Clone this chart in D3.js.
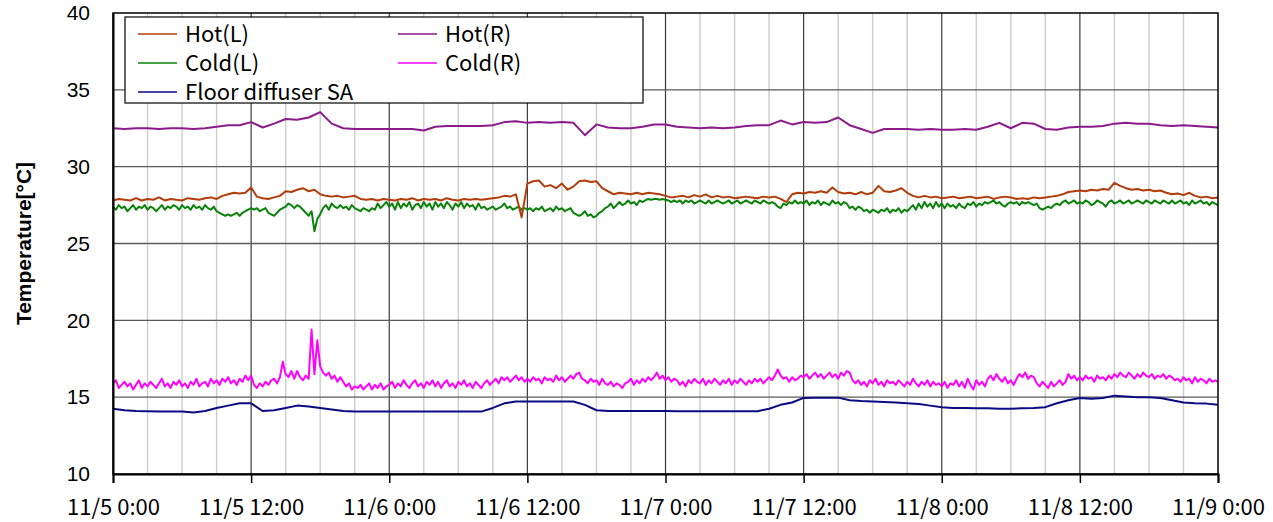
<!DOCTYPE html>
<html>
<head>
<meta charset="utf-8">
<script src="https://cdn.jsdelivr.net/npm/d3@7"></script>
<style>
  html, body { margin: 0; padding: 0; background: #fff; }
  svg { display: block; }
</style>
</head>
<body>
<svg id="chart" width="1273" height="522"></svg>
<script>
// Time axis: hours since 11/5 0:00, four days of logging
const xTickHours = [0, 12, 24, 36, 48, 60, 72, 84, 96];
const xTickLabels = ["11/5 0:00", "11/5 12:00", "11/6 0:00", "11/6 12:00", "11/7 0:00",
                     "11/7 12:00", "11/8 0:00", "11/8 12:00", "11/9 0:00"];
const yTicks = [10, 15, 20, 25, 30, 35, 40];

const seriesNames = ["Hot(L)", "Hot(R)", "Cold(L)", "Cold(R)", "Floor diffuser SA"];
const seriesColors = ["#b23c0a", "#8b1a8b", "#0a820a", "#ff00ff", "#0a0a82"];

// Half-hourly readings [°C]
const hotL = [
  27.8, 27.9, 27.85, 27.8, 27.95, 27.8, 27.9, 27.85, 28.0, 27.8, 27.9, 27.85, 27.8, 27.95, 27.9, 27.85,
  27.95, 28.0, 27.9, 28.1, 28.2, 28.3, 28.25, 28.3, 28.65, 28.05, 27.95, 27.9, 28.0, 28.1, 28.4, 28.35,
  28.5, 28.6, 28.4, 28.5, 28.2, 28.1, 28.05, 28.1, 28.0, 28.05, 28.1, 27.9, 27.85, 27.9, 27.8, 27.9,
  27.85, 27.8, 27.9, 27.85, 27.95, 27.8, 27.9, 27.85, 27.9, 27.8, 27.95, 27.85, 27.8, 27.9, 27.85, 27.9,
  27.85, 27.9, 27.95, 28.0, 28.1, 28.05, 28.2, 26.7, 28.9, 29.05, 29.1, 28.7, 28.8, 28.6, 28.9, 28.5,
  28.7, 29.05, 29.1, 29.0, 29.05, 28.6, 28.4, 28.2, 28.3, 28.25, 28.2, 28.3, 28.2, 28.3, 28.25, 28.2,
  28.1, 28.0, 28.05, 28.1, 28.0, 28.15, 28.05, 28.2, 28.0, 28.1, 28.0, 28.05, 27.95, 28.0, 28.05, 28.0,
  27.95, 28.05, 28.0, 28.05, 27.9, 27.7, 28.2, 28.3, 28.25, 28.35, 28.3, 28.4, 28.3, 28.65, 28.35, 28.25,
  28.3, 28.2, 28.35, 28.2, 28.3, 28.75, 28.4, 28.35, 28.45, 28.6, 28.3, 28.1, 28.0, 28.1, 28.0, 28.05,
  27.95, 28.0, 28.05, 27.95, 28.0, 28.05, 27.95, 28.0, 28.05, 27.9, 28.0, 28.05, 28.0, 27.9, 27.95, 27.9,
  28.0, 27.95, 28.0, 28.05, 28.1, 28.2, 28.35, 28.4, 28.45, 28.4, 28.5, 28.45, 28.55, 28.5, 28.95, 28.75,
  28.6, 28.5, 28.55, 28.45, 28.5, 28.4, 28.45, 28.3, 28.2, 28.25, 28.15, 28.3, 28.1, 28.0, 28.05, 27.95,
  28.0
];

// Quarter-hourly readings [°C]
const coldL = [
  27.4, 27.2, 27.5, 27.3, 27.4, 27.1, 27.3, 27.5, 27.2, 27.4, 27.3, 27.5, 27.2, 27.4, 27.3, 27.1,
  27.3, 27.5, 27.2, 27.4, 27.3, 27.5, 27.4, 27.2, 27.5, 27.3, 27.4, 27.2, 27.5, 27.3, 27.4, 27.2,
  27.5, 27.3, 27.2, 27.4, 27.1, 27.0, 26.9, 26.8, 26.9, 26.8, 26.9, 27.0, 26.8, 27.0, 27.1, 27.2,
  27.3, 27.2, 27.3, 27.1, 27.2, 27.3, 27.0, 26.9, 26.8, 27.0, 27.2, 27.3, 27.4, 27.6, 27.5, 27.3,
  27.5, 27.4, 27.2, 27.0, 26.8, 27.1, 25.8, 26.6, 26.9, 27.3, 27.5, 27.2, 27.6, 27.4, 27.3, 27.5,
  27.3, 27.4, 27.2, 27.5, 27.3, 27.2, 27.1, 27.3, 27.2, 27.1, 27.3, 27.2, 27.6, 27.3, 27.5, 27.7,
  27.4, 27.6, 27.2, 27.7, 27.3, 27.6, 27.4, 27.7, 27.2, 27.5, 27.6, 27.3, 27.7, 27.4, 27.6, 27.2,
  27.7, 27.4, 27.6, 27.3, 27.7, 27.5, 27.2, 27.6, 27.4, 27.7, 27.3, 27.6, 27.4, 27.5, 27.2, 27.6,
  27.3, 27.4, 27.2, 27.3, 27.4, 27.2, 27.3, 27.4, 27.6, 27.3, 27.4, 27.2, 27.3, 27.4, 27.2, 27.3,
  27.2, 27.3, 27.1, 27.3, 27.2, 27.4, 27.1, 27.2, 27.3, 27.1, 27.4, 27.2, 27.3, 27.1, 27.2, 27.3,
  27.0, 26.9, 26.8, 26.9, 27.1, 26.8, 26.9, 26.7, 26.8, 27.0, 27.1, 27.3, 27.4, 27.6, 27.3, 27.5,
  27.7, 27.5, 27.6, 27.8, 27.6, 27.7, 27.5, 27.8, 27.7, 27.8, 27.9, 27.85, 27.9, 27.9, 27.85, 27.9,
  27.85, 27.8, 27.7, 27.8, 27.7, 27.8, 27.6, 27.8, 27.7, 27.8, 27.6, 27.7, 27.8, 27.7, 27.6, 27.8,
  27.6, 27.7, 27.8, 27.7, 27.6, 27.7, 27.8, 27.6, 27.7, 27.8, 27.6, 27.7, 27.8, 27.7, 27.6, 27.8,
  27.7, 27.6, 27.8, 27.7, 27.6, 27.7, 27.6, 27.4, 27.3, 27.6, 27.5, 27.7, 27.6, 27.8, 27.6, 27.7,
  27.6, 27.8, 27.5, 27.7, 27.6, 27.8, 27.5, 27.7, 27.6, 27.5, 27.8, 27.6, 27.7, 27.5, 27.7, 27.6,
  27.3, 27.4, 27.2, 27.4, 27.3, 27.1, 27.2, 27.0, 27.2, 27.1, 27.0, 27.2, 27.1, 27.3, 27.0, 27.2,
  27.1, 27.3, 27.0, 27.2, 27.1, 27.3, 27.5, 27.2, 27.6, 27.3, 27.7, 27.4, 27.6, 27.3, 27.7, 27.4,
  27.6, 27.3, 27.6, 27.4, 27.5, 27.3, 27.6, 27.4, 27.3, 27.6, 27.5, 27.7, 27.4, 27.6, 27.5, 27.7,
  27.6, 27.7, 27.8, 27.6, 27.7, 27.5, 27.4, 27.6, 27.7, 27.6, 27.7, 27.5, 27.7, 27.6, 27.7, 27.6,
  27.5, 27.6, 27.3, 27.2, 27.3, 27.4, 27.3, 27.5, 27.6, 27.5, 27.7, 27.8, 27.6, 27.7, 27.8, 27.6,
  27.7, 27.6, 27.8, 27.7, 27.5, 27.6, 27.8, 27.7, 27.6, 27.4, 27.7, 27.8, 27.6, 27.7, 27.8, 27.6,
  27.7, 27.8, 27.6, 27.7, 27.8, 27.7, 27.6, 27.8, 27.7, 27.6, 27.8, 27.7, 27.6, 27.8, 27.7, 27.6,
  27.8, 27.6, 27.7, 27.8, 27.6, 27.7, 27.5, 27.8, 27.6, 27.7, 27.8, 27.6, 27.7, 27.5, 27.7, 27.6,
  27.5
];

const coldR = [
  15.9, 16.1, 15.6, 15.8, 16.0, 15.7, 15.9, 15.5, 15.8, 16.1, 15.6, 15.9, 15.7, 16.0, 15.8, 15.6,
  15.9, 16.2, 15.7, 15.9, 15.6, 16.0, 15.8, 16.1, 15.7, 15.9, 15.6, 16.0, 15.8, 16.2, 15.7, 15.9,
  16.0, 15.7, 16.2, 15.9, 16.1, 15.8, 16.2, 16.0, 16.3, 15.9, 16.1, 15.8, 16.2, 16.0, 16.4, 16.1,
  16.4, 15.8, 15.6, 15.9, 15.7, 16.0, 15.8, 16.1, 16.2, 15.9, 16.3, 17.3, 16.5, 16.3, 16.7, 16.2,
  16.7, 16.3, 16.1, 16.4, 16.2, 19.4, 16.5, 18.7, 17.0, 16.6, 16.4, 16.6, 16.2, 16.4, 16.0, 16.3,
  16.0, 15.7, 15.9, 15.5, 15.7, 15.6, 15.8, 15.5, 15.7, 15.9, 15.5, 15.8, 15.6, 15.9, 15.5, 15.7,
  15.8, 16.0, 15.6, 15.9, 15.7, 16.1, 15.8, 15.6, 15.9, 16.1, 15.7, 15.9, 15.6, 16.0, 15.8, 16.1,
  15.7, 16.0, 15.6, 15.9, 16.1, 15.7, 15.9, 15.6, 16.0, 15.8, 16.1, 15.7, 15.9, 15.6, 16.0, 15.8,
  15.6, 15.9, 16.1, 15.8, 16.0, 16.2, 15.9, 16.3, 16.1, 16.3, 16.0, 16.2, 16.4, 16.1, 16.3, 16.0,
  16.2, 16.0, 16.3, 16.1, 16.2, 15.9, 16.3, 16.1, 16.2, 16.0, 16.4, 16.1, 16.3, 16.0, 16.2, 16.4,
  16.2, 16.5, 16.6, 16.2, 16.1, 15.9, 16.2, 16.0, 16.1, 15.8, 16.2, 15.9, 15.8, 16.0, 15.7, 15.9,
  15.8, 15.6, 15.9, 16.0, 16.2, 15.8, 16.1, 15.9, 16.2, 16.0, 16.3, 16.1, 16.3, 16.6, 16.2, 16.4,
  16.1, 16.3, 16.0, 16.2, 16.1, 15.8, 16.0, 15.7, 16.1, 15.9, 16.2, 16.0, 15.9, 16.2, 15.8, 16.1,
  15.9, 16.2, 16.0, 15.8, 16.1, 15.9, 16.2, 15.8, 16.1, 15.9, 16.2, 16.0, 15.8, 16.1, 15.9, 16.2,
  16.0, 16.2, 15.9, 16.1, 16.3, 16.1, 16.4, 16.8, 16.4, 16.2, 16.3, 16.0, 16.3, 16.1, 16.2, 16.4,
  16.3, 16.5, 16.2, 16.4, 16.6, 16.3, 16.5, 16.2, 16.4, 16.6, 16.3, 16.5, 16.2, 16.6, 16.4, 16.7,
  16.6, 16.1, 15.9, 16.1, 15.8, 16.0, 15.7, 16.1, 15.9, 16.2, 15.8, 16.0, 15.7, 16.1, 15.9, 16.0,
  15.8, 16.1, 15.9, 15.7, 16.0, 15.8, 16.2, 15.9, 15.7, 16.0, 15.8, 16.1, 15.7, 16.0, 15.8, 15.9,
  15.7, 16.0, 15.6, 15.9, 15.8, 16.1, 15.7, 16.0, 15.6, 16.2, 15.8, 15.5, 16.1, 15.8, 16.0, 15.7,
  16.2, 16.4, 16.1, 16.5, 16.2, 16.0, 16.3, 15.9, 16.1, 15.8, 16.2, 16.5, 16.3, 16.6, 16.2, 16.4,
  16.3, 15.9, 15.7, 16.0, 15.8, 15.6, 16.0, 15.7, 15.9, 16.1, 15.8, 16.0, 16.5, 16.2, 16.4, 16.1,
  16.3, 16.1, 16.4, 16.2, 16.3, 16.0, 16.4, 16.2, 16.3, 16.1, 16.4, 16.2, 16.5, 16.3, 16.6, 16.4,
  16.3, 16.6, 16.4, 16.2, 16.5, 16.3, 16.6, 16.4, 16.3, 16.5, 16.2, 16.4, 16.3, 16.5, 16.2, 16.4,
  16.3, 16.1, 16.2, 16.0, 16.3, 16.1, 16.2, 15.9, 16.3, 16.0, 16.2, 16.1, 15.9, 16.2, 16.0, 16.1,
  16.0
];

// Hourly readings [°C]
const hotR = [
  32.5, 32.45, 32.5, 32.5, 32.45, 32.5, 32.5, 32.45, 32.5, 32.6, 32.7, 32.7, 32.9, 32.55, 32.8, 33.1,
  33.05, 33.2, 33.55, 32.8, 32.5, 32.45, 32.45, 32.45, 32.45, 32.45, 32.45, 32.35, 32.6, 32.65, 32.65, 32.65,
  32.65, 32.7, 32.9, 32.95, 32.85, 32.9, 32.85, 32.9, 32.85, 32.05, 32.75, 32.55, 32.5, 32.5, 32.6, 32.75,
  32.75, 32.6, 32.55, 32.5, 32.55, 32.5, 32.55, 32.65, 32.7, 32.7, 33.0, 32.75, 32.9, 32.85, 32.9, 33.2,
  32.7, 32.45, 32.2, 32.45, 32.45, 32.45, 32.4, 32.45, 32.4, 32.4, 32.45, 32.4, 32.6, 32.85, 32.5, 32.85,
  32.8, 32.45, 32.4, 32.55, 32.6, 32.6, 32.65, 32.8, 32.85, 32.8, 32.8, 32.7, 32.65, 32.7, 32.65, 32.6,
  32.55
];

const floorSA = [
  14.25, 14.15, 14.1, 14.08, 14.07, 14.06, 14.06, 14.0, 14.1, 14.3, 14.45, 14.6, 14.6, 14.1, 14.15, 14.3,
  14.45, 14.4, 14.3, 14.2, 14.1, 14.06, 14.06, 14.06, 14.06, 14.06, 14.06, 14.06, 14.06, 14.06, 14.06, 14.06,
  14.06, 14.3, 14.6, 14.72, 14.72, 14.72, 14.72, 14.72, 14.72, 14.5, 14.15, 14.1, 14.1, 14.1, 14.1, 14.1,
  14.1, 14.08, 14.08, 14.08, 14.08, 14.08, 14.08, 14.08, 14.08, 14.25, 14.5, 14.65, 14.95, 14.97, 14.97, 14.97,
  14.8, 14.75, 14.72, 14.68, 14.65, 14.6, 14.55, 14.45, 14.35, 14.3, 14.3, 14.28, 14.28, 14.25, 14.25, 14.28,
  14.3, 14.35, 14.6, 14.8, 14.95, 14.9, 14.95, 15.1, 15.05, 15.0, 15.0, 14.95, 14.8, 14.65, 14.6, 14.58,
  14.5
];

const seriesValues = [hotL, hotR, coldL, coldR, floorSA];
const drawOrder = [4, 3, 2, 0, 1];

const svg = d3.select("#chart");
const plot = { left: 113, right: 1218, top: 13, bottom: 474 };

const x = d3.scaleLinear().domain([0, 96]).range([plot.left, plot.right]);
const y = d3.scaleLinear().domain([10, 40]).range([plot.bottom, plot.top]);

// Minor vertical grid every 3 hours
const minorHours = d3.range(3, 96, 3).filter(h => h % 12 !== 0);
svg.append("g").selectAll("line").data(minorHours).join("line")
  .attr("x1", d => x(d)).attr("x2", d => x(d))
  .attr("y1", plot.top).attr("y2", plot.bottom)
  .attr("stroke", "#cfcfcf").attr("stroke-width", 1.5);

// Major vertical grid every 12 hours
svg.append("g").selectAll("line").data(xTickHours.slice(1, -1)).join("line")
  .attr("x1", d => x(d)).attr("x2", d => x(d))
  .attr("y1", plot.top).attr("y2", plot.bottom)
  .attr("stroke", "#3a3a3a").attr("stroke-width", 1.2);

// Horizontal grid
svg.append("g").selectAll("line").data(yTicks.slice(1, -1)).join("line")
  .attr("x1", plot.left).attr("x2", plot.right)
  .attr("y1", d => y(d)).attr("y2", d => y(d))
  .attr("stroke", "#5a5a5a").attr("stroke-width", 1.3);

// Series lines
const line = d3.line()
  .x((d, i, arr) => x(i * 96 / (arr.length - 1)))
  .y(d => y(d));

svg.append("g").selectAll("path").data(drawOrder).join("path")
  .attr("fill", "none")
  .attr("stroke", k => seriesColors[k])
  .attr("stroke-width", 2)
  .attr("stroke-linejoin", "round")
  .attr("d", k => line(seriesValues[k]));

// Plot frame
svg.append("rect")
  .attr("x", plot.left).attr("y", plot.top)
  .attr("width", plot.right - plot.left).attr("height", plot.bottom - plot.top)
  .attr("fill", "none").attr("stroke", "#000").attr("stroke-width", 1.5);

// X axis
const xAxis = d3.axisBottom(x)
  .tickValues(xTickHours)
  .tickFormat((d, i) => xTickLabels[i])
  .tickSize(9);
const gx = svg.append("g").attr("transform", `translate(0,${plot.bottom})`).call(xAxis);
gx.select(".domain").attr("stroke", "#000").attr("stroke-width", 2);
gx.selectAll(".tick line").attr("stroke", "#000").attr("stroke-width", 1.5);
gx.selectAll(".tick text")
  .attr("fill", "#000")
  .attr("y", 41).attr("dy", 0)
  .style("font-family", "'Noto Sans CJK JP', sans-serif")
  .style("font-size", "22px");

// Y axis
const yAxis = d3.axisLeft(y).tickValues(yTicks).tickSize(0).tickPadding(23);
const gy = svg.append("g").attr("transform", `translate(${plot.left},0)`).call(yAxis);
gy.select(".domain").attr("stroke", "#000").attr("stroke-width", 2);
gy.selectAll(".tick text")
  .attr("fill", "#000")
  .style("font-family", "'Liberation Sans', Arial, sans-serif")
  .style("font-size", "21px");

// Y axis title
svg.append("text")
  .attr("transform", `translate(31,${(plot.top + plot.bottom) / 2}) rotate(-90)`)
  .attr("text-anchor", "middle")
  .style("font-family", "'Liberation Sans', Arial, sans-serif")
  .style("font-weight", "bold")
  .style("font-size", "21px")
  .text("Temperature[°C]");

// Legend
const legend = svg.append("g");
legend.append("rect")
  .attr("x", 125).attr("y", 17).attr("width", 518).attr("height", 86)
  .attr("fill", "#fff").attr("stroke", "#000").attr("stroke-width", 1.2);

const legendPos = [
  { col: 0, row: 0 }, { col: 1, row: 0 },
  { col: 0, row: 1 }, { col: 1, row: 1 },
  { col: 0, row: 2 }
];
const colX = [138, 398];
const rowY = [34, 63, 92];

const items = legend.selectAll("g.item").data(seriesNames).join("g")
  .attr("class", "item")
  .attr("transform", (d, i) => `translate(${colX[legendPos[i].col]},${rowY[legendPos[i].row]})`);
items.append("line")
  .attr("x1", 0).attr("x2", 39).attr("y1", 0).attr("y2", 0)
  .attr("stroke", (d, i) => seriesColors[i]).attr("stroke-width", 1.5);
items.append("text")
  .attr("x", 47).attr("y", 0).attr("dy", "0.35em")
  .style("font-family", "'Noto Sans CJK JP', sans-serif")
  .style("font-size", "22px")
  .text(d => d);
</script>
</body>
</html>
